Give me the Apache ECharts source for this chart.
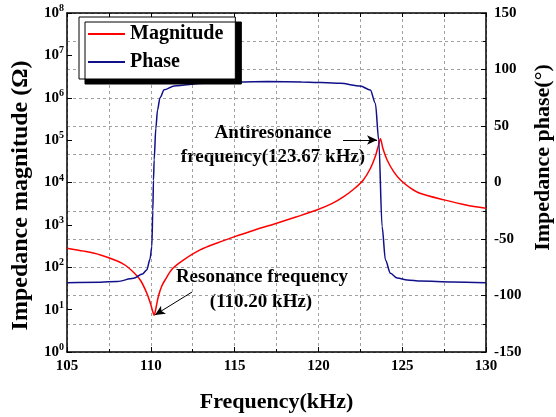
<!DOCTYPE html>
<html lang="en">
<head>
    <meta charset="UTF-8">
    <title>Impedance</title>
    <script src="https://cdn.jsdelivr.net/npm/echarts@6/dist/echarts.min.js"></script>
    <style>
        html, body { margin: 0; padding: 0; background: #fff; }
        #chart { width: 556px; height: 417px; }
    </style>
</head>
<body>
    <div id="chart"></div>
    <script>
        // magnitude curve (Ohm)
        const magFreq = [105, 106, 107, 108, 108.5, 109, 109.4, 109.76, 110.0, 110.1, 110.2, 110.3, 110.45, 110.65,
            110.85, 111.3, 111.94, 112.94, 114, 114.92, 116.2, 117.51, 118.7, 119.9, 120.8, 121.49, 122.1, 122.68,
            123.1, 123.4, 123.6, 123.7, 123.85, 124.1, 124.5, 124.9, 125.5, 126.1, 127.5, 128.8, 130];
        const magValue = [282, 240, 195, 140, 110, 74, 48, 24.5, 13.2, 9.5, 7.4, 10.5, 20.4, 35.5,
            50, 93, 148, 257, 380, 513, 759, 1096, 1549, 2239, 3162, 4571, 6918, 11480,
            21380, 41690, 79430, 107150, 63100, 33880, 17780, 11480, 7413, 5495, 3890, 2951, 2455];

        // phase curve (deg)
        const phaseFreq = [105, 107, 108, 108.97, 109.5, 109.76, 109.95, 110.06, 110.12, 110.16, 110.2, 110.3, 110.4,
            110.55, 110.8, 111.4, 113.2, 115.2, 117, 119, 121.3, 122.5, 123.1, 123.4, 123.6, 123.8, 124.0, 124.3,
            124.7, 125.3, 126.1, 128, 130];
        const phaseValue = [-88.7, -88.3, -87.5, -84.8, -81, -77.4, -68, -56.8, -25, 2, 20, 48, 64,
            75, 82, 85.5, 87.8, 89, 89.3, 89, 87.8, 85.4, 81.9, 70, 37.6, -39, -68.6, -80.4,
            -84.5, -86.3, -87.2, -88, -88.7];

        const FONT = 'Liberation Serif';
        const dash = { color: '#a0a0a0', width: 1, type: [3, 3] };
        const note = 'bold 19px ' + FONT;

        const chart = echarts.init(document.getElementById('chart'));
        chart.setOption({
            animation: false,
            textStyle: { fontFamily: FONT },
            grid: { left: 67, right: 70, top: 13, bottom: 65, outerBoundsMode: 'none' },
            legend: {
                orient: 'vertical',
                left: 79,
                top: 17,
                data: ['Magnitude', 'Phase'],
                icon: 'rect',
                backgroundColor: '#fff',
                borderColor: '#000',
                borderWidth: 1,
                shadowColor: '#000',
                shadowOffsetX: 6,
                shadowOffsetY: 5,
                shadowBlur: 0,
                padding: [7, 12, 7, 9],
                itemGap: 8,
                itemWidth: 37,
                itemHeight: 2,
                textStyle: { fontFamily: FONT, fontWeight: 'bold', fontSize: 20, color: '#000' }
            },
            xAxis: [{
                type: 'value',
                min: 105,
                max: 130,
                interval: 5,
                name: 'Frequency(kHz)',
                nameLocation: 'middle',
                nameGap: 39,
                nameTextStyle: { fontFamily: FONT, fontWeight: 'bold', fontSize: 22, color: '#000' },
                axisLine: { onZero: false, lineStyle: { color: '#000', width: 1.5 } },
                axisTick: { inside: true, length: 5, lineStyle: { color: '#000' } },
                minorTick: { show: true, splitNumber: 2, length: 3, lineStyle: { color: '#000' } },
                axisLabel: { fontFamily: FONT, fontWeight: 'bold', fontSize: 15, color: '#000', margin: 7 },
                splitLine: { show: true, lineStyle: dash },
                minorSplitLine: { show: true, lineStyle: dash }
            }, {
                type: 'value',
                position: 'top',
                min: 105,
                max: 130,
                interval: 2.5,
                axisLine: { show: true, onZero: false, lineStyle: { color: '#000', width: 1.5 } },
                axisTick: { show: true, inside: true, length: 4, lineStyle: { color: '#000' } },
                axisLabel: { show: false },
                splitLine: { show: false }
            }],
            yAxis: [{
                type: 'log',
                logBase: 10,
                min: 1,
                max: 1e8,
                position: 'left',
                name: 'Impedance magnitude (\u03a9)',
                nameLocation: 'middle',
                nameRotate: 90,
                nameGap: 28,
                nameTextStyle: { fontFamily: FONT, fontWeight: 'bold', fontSize: 24, color: '#000', padding: [0, 26, 0, 0] },
                axisLine: { show: true, lineStyle: { color: '#000', width: 1.5 } },
                axisTick: { show: true, inside: true, length: 5, lineStyle: { color: '#000' } },
                splitLine: { show: false },
                axisLabel: {
                    margin: 3,
                    formatter: function (v) {
                        return '{b|10}{s|' + Math.round(Math.log10(v)) + '}';
                    },
                    rich: {
                        b: { fontFamily: FONT, fontWeight: 'bold', fontSize: 15, color: '#000' },
                        s: { fontFamily: FONT, fontWeight: 'bold', fontSize: 10, color: '#000', padding: [0, 0, 9, 0] }
                    }
                }
            }, {
                type: 'value',
                min: -150,
                max: 150,
                interval: 50,
                position: 'right',
                name: 'Impedance phase(\u00b0)',
                nameLocation: 'middle',
                nameRotate: 90,
                nameGap: 45,
                nameTextStyle: { fontFamily: FONT, fontWeight: 'bold', fontSize: 22, color: '#000', padding: [0, 0, 0, 50] },
                axisLine: { show: true, lineStyle: { color: '#000', width: 1.5 } },
                axisTick: { show: true, inside: true, length: 5, lineStyle: { color: '#000' } },
                minorTick: { show: true, splitNumber: 2, length: 3, lineStyle: { color: '#000' } },
                axisLabel: { fontFamily: FONT, fontWeight: 'bold', fontSize: 15, color: '#000', margin: 8 },
                splitLine: { show: true, lineStyle: dash },
                minorSplitLine: { show: true, lineStyle: dash }
            }],
            series: [{
                name: 'Magnitude',
                type: 'line',
                yAxisIndex: 0,
                symbol: 'none',
                smooth: 0.3,
                color: '#ff0000',
                lineStyle: { width: 1.5 },
                data: magFreq.map((f, i) => [f, magValue[i]]),
                markLine: {
                    silent: true,
                    symbol: ['none', 'arrow'],
                    symbolSize: [7, 10],
                    label: { show: false },
                    lineStyle: { color: '#000', width: 1, type: 'solid' },
                    data: [
                        [{ coord: [121.47, 100700] }, { coord: [123.5, 100700] }],
                        [{ coord: [112.46, 26] }, { coord: [110.25, 7.5] }]
                    ]
                }
            }, {
                name: 'Phase',
                type: 'line',
                yAxisIndex: 1,
                symbol: 'none',
                smooth: 0.3,
                smoothMonotone: 'x',
                color: '#10108a',
                lineStyle: { width: 1.5 },
                data: phaseFreq.map((f, i) => [f, phaseValue[i]])
            }],
            graphic: [
                { type: 'text', x: 273, y: 133, style: { text: 'Antiresonance', font: note, fill: '#000', align: 'center', verticalAlign: 'middle' } },
                { type: 'text', x: 273, y: 157, style: { text: 'frequency(123.67 kHz)', font: note, fill: '#000', align: 'center', verticalAlign: 'middle' } },
                { type: 'text', x: 262, y: 277, style: { text: 'Resonance frequency', font: note, fill: '#000', align: 'center', verticalAlign: 'middle' } },
                { type: 'text', x: 261, y: 302, style: { text: '(110.20 kHz)', font: note, fill: '#000', align: 'center', verticalAlign: 'middle' } }
            ]
        });
    </script>
</body>
</html>
